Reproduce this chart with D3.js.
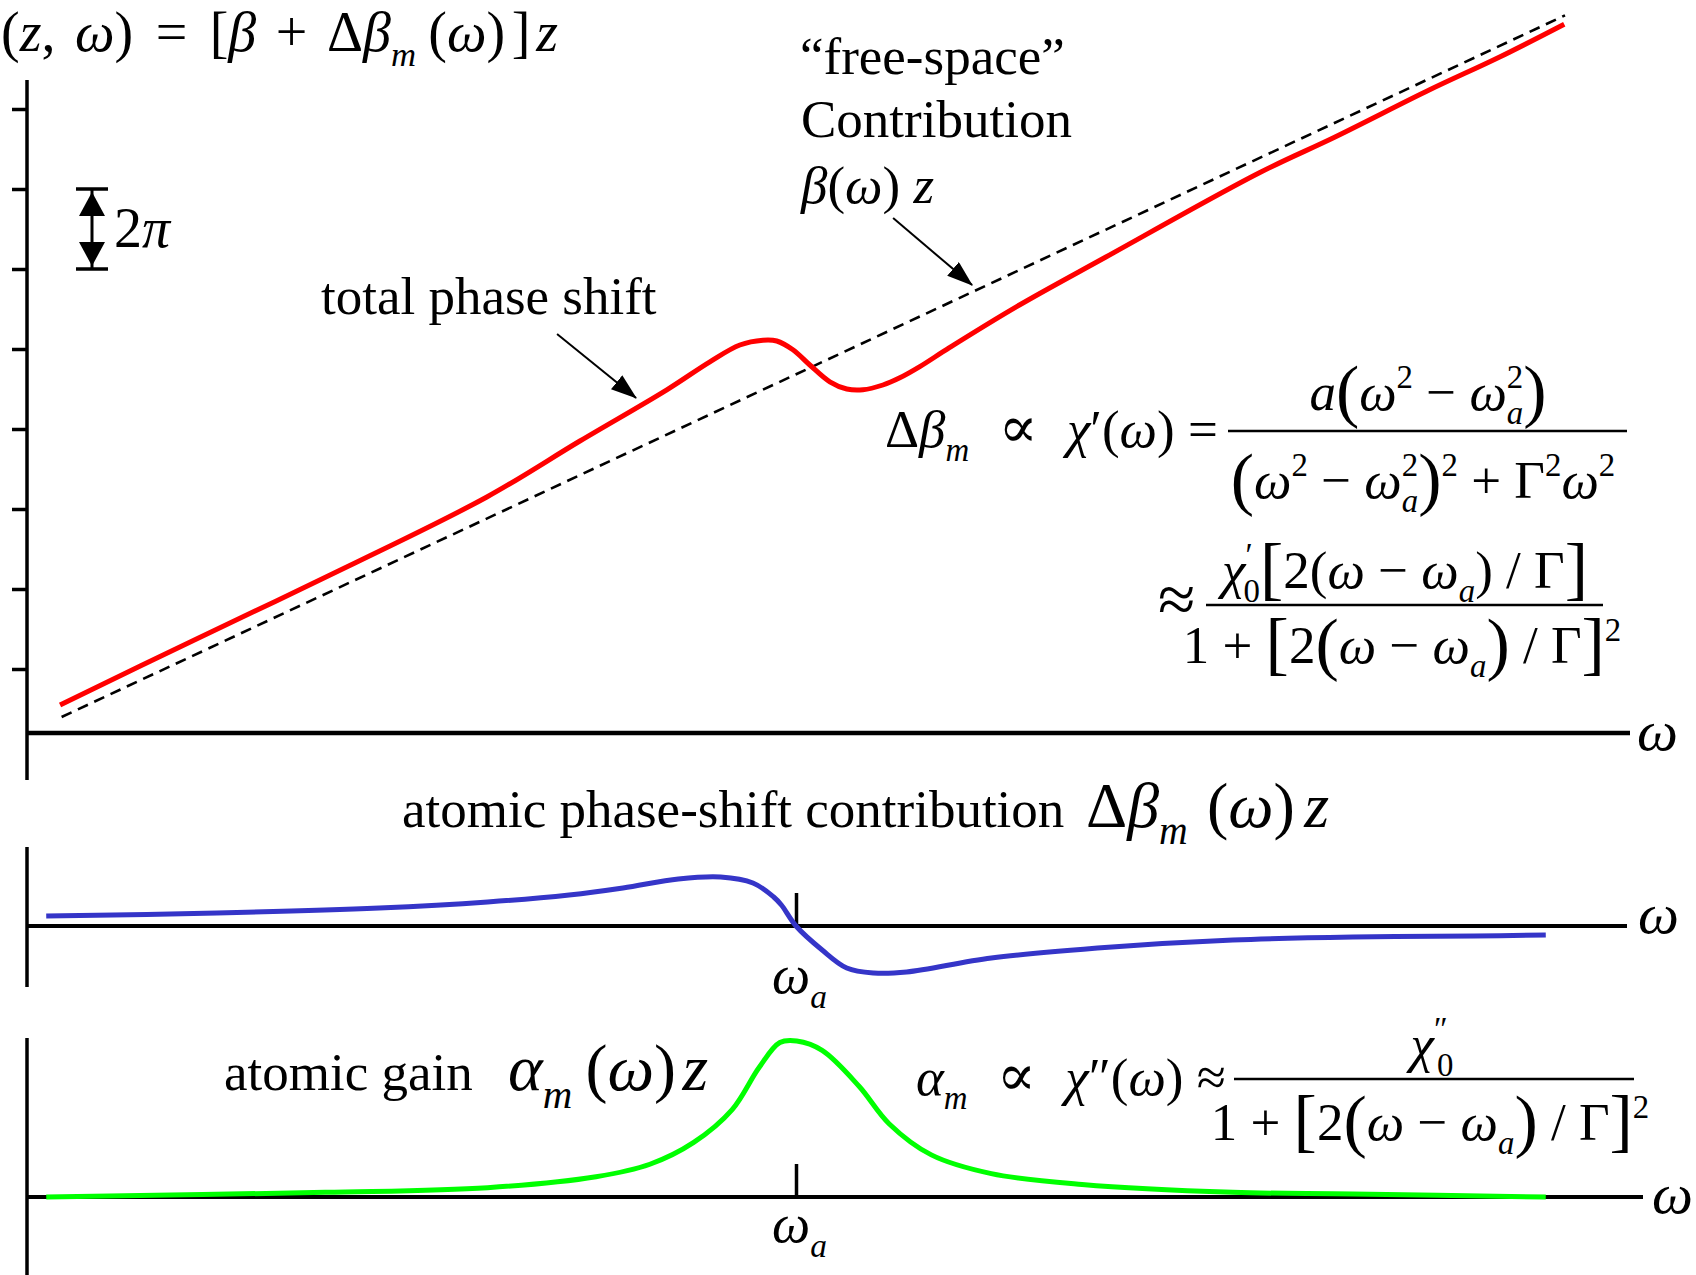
<!DOCTYPE html>
<html>
<head>
<meta charset="utf-8">
<script src="https://cdn.jsdelivr.net/npm/d3@7"></script>
<style>
  body { margin: 0; background: #fff; }
  svg { display: block; }
  text { font-family: "Liberation Serif", "Times New Roman", "DejaVu Serif", serif; fill: #000; white-space: pre; }
</style>
</head>
<body>
<svg id="chart" width="1696" height="1275"></svg>
<script>
// ---------------------------------------------------------------
// Data: frequency ω in units of the atomic resonance ω_a
// ---------------------------------------------------------------
const omegaA = 1;

// free-space phase β(ω)z (straight line), phase in units of 2π
const freeSpaceOmega = [0.045, 2.0];
const freeSpacePhase = [0.40, 9.17];

// total phase shift [β + Δβ_m(ω)]z, in units of 2π
const totalOmega = [0.043, 0.217, 0.417, 0.598, 0.719, 0.832, 0.888, 0.927, 0.957,
                    0.975, 0.996, 1.018, 1.044, 1.066, 1.087, 1.113, 1.135, 1.161, 1.200,
                    1.287, 1.403, 1.602, 1.701, 1.824, 1.915, 1.999];
const totalPhase = [0.55, 1.36, 2.28, 3.15, 3.85, 4.49, 4.84, 5.05, 5.11,
                    5.10, 4.99, 4.80, 4.59, 4.50, 4.49, 4.55, 4.64, 4.78, 5.02,
                    5.53, 6.15, 7.20, 7.65, 8.24, 8.65, 9.06];

// tick marks on the phase axis, one every 2π
const phaseTicks = [1, 2, 3, 4, 5, 6, 7, 8];

// atomic phase-shift contribution Δβ_m(ω)z (dispersive, arbitrary units)
const dispOmega = [0.025, 0.247, 0.458, 0.599, 0.705, 0.775, 0.847, 0.902, 0.944, 0.971,
                   0.981, 1.000, 1.034, 1.066, 1.101, 1.144, 1.254, 1.411, 1.568, 1.724,
                   1.882, 1.975];
const dispValue = [0.10, 0.13, 0.18, 0.24, 0.31, 0.38, 0.47, 0.49, 0.43, 0.29,
                   0.21, 0.00, -0.24, -0.42, -0.47, -0.46, -0.32, -0.21, -0.14, -0.11,
                   -0.10, -0.09];

// atomic gain α_m(ω)z (Lorentzian, normalised to its peak)
const gainOmega = [0.025, 0.388, 0.599, 0.740, 0.810, 0.867, 0.917, 0.952, 0.979, 1.001,
                   1.034, 1.082, 1.121, 1.176, 1.254, 1.372, 1.568, 1.724, 1.975];
const gainValue = [0.00, 0.03, 0.06, 0.13, 0.21, 0.35, 0.56, 0.83, 0.99, 1.00,
                   0.94, 0.71, 0.47, 0.27, 0.15, 0.08, 0.03, 0.02, 0.00];

// ---------------------------------------------------------------
// Scales
// ---------------------------------------------------------------
const svg = d3.select("#chart");
const AX = 27;                       // common vertical axis position
const x = d3.scaleLinear().domain([0, 1]).range([AX, 796]);
const yTop = d3.scaleLinear().domain([0.2, 8.2]).range([733, 93]);
const yMid = d3.scaleLinear().domain([0, 0.5]).range([926, 876]);
const yBot = d3.scaleLinear().domain([0, 1]).range([1197, 1041]);
const smooth = d3.curveCatmullRom.alpha(0.5);

const zip = (a, b) => a.map((v, i) => [v, b[i]]);

// arrowhead marker for the annotation pointers
const defs = svg.append("defs");
defs.append("marker")
  .attr("id", "head")
  .attr("markerUnits", "userSpaceOnUse")
  .attr("viewBox", "0 0 26 18")
  .attr("markerWidth", 26).attr("markerHeight", 18)
  .attr("refX", 25).attr("refY", 9)
  .attr("orient", "auto")
  .append("path").attr("d", "M0,0 L26,9 L0,18 Z").attr("fill", "#000");

// ---------------------------------------------------------------
// Math text helper (tspans with italics, sub- and superscripts)
// ---------------------------------------------------------------
function math(px, py, size, parts, anchor = "start") {
  const t = svg.append("text").attr("x", px).attr("y", py)
    .attr("font-size", size).attr("text-anchor", anchor);
  let base = 0;
  for (const o of parts) {
    const ts = t.append("tspan").text(o.t);
    const s = o.s || 1;
    if (s !== 1) ts.attr("font-size", size * s);
    if (o.i) ts.attr("font-style", "italic");
    const b = (o.b || 0) * size;
    if (b !== base) ts.attr("dy", b - base);
    base = b;
    if (o.dx) ts.attr("dx", o.dx * size);
  }
  return t;
}
const I = (t, e = {}) => ({ t, i: true, ...e });
const R = (t, e = {}) => ({ t, ...e });
const Sub = (t, e = {}) => ({ t, i: true, s: 0.62, b: 0.27, ...e });
const Sup = (t, e = {}) => ({ t, s: 0.62, b: -0.42, ...e });
const BIG = { s: 1.32, b: 0.08 };

// ---------------------------------------------------------------
// Top panel: phase vs ω
// ---------------------------------------------------------------
const gTop = svg.append("g");
gTop.append("line").attr("x1", AX).attr("x2", AX).attr("y1", 80).attr("y2", 780)
  .attr("stroke", "#000").attr("stroke-width", 3.5);
const yAxis = gTop.append("g").attr("transform", `translate(${AX},0)`)
  .call(d3.axisLeft(yTop).tickValues(phaseTicks).tickSize(15).tickFormat(""));
yAxis.select(".domain").remove();
yAxis.selectAll(".tick line").attr("stroke", "#000").attr("stroke-width", 3.5);
gTop.append("line").attr("x1", AX).attr("x2", 1630)
  .attr("y1", yTop(0.2)).attr("y2", yTop(0.2))
  .attr("stroke", "#000").attr("stroke-width", 4.5);

const lineTop = d3.line().x(d => x(d[0])).y(d => yTop(d[1]));
gTop.append("path").datum(zip(freeSpaceOmega, freeSpacePhase))
  .attr("d", lineTop).attr("fill", "none")
  .attr("stroke", "#000").attr("stroke-width", 2.6).attr("stroke-dasharray", "11,7");
gTop.append("path").datum(zip(totalOmega, totalPhase))
  .attr("d", lineTop.curve(smooth)).attr("fill", "none")
  .attr("stroke", "#ff0000").attr("stroke-width", 5);

// 2π scale marker spanning one tick interval
const m1 = yTop(7), m0 = yTop(6), mx = 92;
gTop.append("line").attr("x1", mx).attr("x2", mx).attr("y1", m1).attr("y2", m0)
  .attr("stroke", "#000").attr("stroke-width", 3);
[m1, m0].forEach(v => gTop.append("line").attr("x1", mx - 16).attr("x2", mx + 16)
  .attr("y1", v).attr("y2", v).attr("stroke", "#000").attr("stroke-width", 3.5));
gTop.append("path").attr("d", `M${mx},${m1 + 3} L${mx - 13},${m1 + 27} L${mx + 13},${m1 + 27} Z`);
gTop.append("path").attr("d", `M${mx},${m0 - 3} L${mx - 13},${m0 - 27} L${mx + 13},${m0 - 27} Z`);
math(114, 247, 56, [R("2"), I("π")]);

// pointer to the free-space line
const fsAt = w => d3.interpolateNumber(freeSpacePhase[0], freeSpacePhase[1])(
  (w - freeSpaceOmega[0]) / (freeSpaceOmega[1] - freeSpaceOmega[0]));
const t1x = x(1.229), t1y = yTop(fsAt(1.229)) - 7;
gTop.append("line").attr("x1", t1x - 79).attr("y1", t1y - 67).attr("x2", t1x).attr("y2", t1y)
  .attr("stroke", "#000").attr("stroke-width", 2).attr("marker-end", "url(#head)");
// pointer to the total phase curve
const totAt = d3.scaleLinear().domain(totalOmega).range(totalPhase);
const t2x = x(0.792), t2y = yTop(totAt(0.792)) - 10;
gTop.append("line").attr("x1", t2x - 79).attr("y1", t2y - 64).attr("x2", t2x).attr("y2", t2y)
  .attr("stroke", "#000").attr("stroke-width", 2).attr("marker-end", "url(#head)");

// labels of the top panel
math(1, 51, 56, [R("("), I("z"), R(","), I("ω", { dx: 0.35 }), R(")"), R("=", { dx: 0.4 }),
  R("[", { dx: 0.4 }), I("β"), R("+", { dx: 0.35 }), R("Δ", { dx: 0.35 }), I("β"),
  Sub("m"), R("(", { dx: 0.22 }), I("ω"), R(")"), R("]", { dx: 0.12 }), I("z", { dx: 0.1 })]);
math(800, 74, 53, [R("“free-space”")]);
math(801, 137, 53, [R("Contribution")]);
math(801, 203, 53, [I("β"), R("("), I("ω"), R(") "), I("z")]);
math(321, 314, 53, [R("total phase shift")]);
math(1637, 750, 58, [I("ω")]);

// Δβ_m ∝ χ'(ω) = a(ω² − ω_a²) / [(ω² − ω_a²)² + Γ²ω²]
math(885, 447, 53, [R("Δ"), I("β"), Sub("m"), R("  ∝  ", { s: 1.1 }), I("χ"), R("′("), I("ω"), R(") =")]);
svg.append("line").attr("x1", 1228).attr("x2", 1627).attr("y1", 431).attr("y2", 431)
  .attr("stroke", "#000").attr("stroke-width", 2.5);
math(1428, 410, 53, [I("a"), R("(", BIG), I("ω"), Sup("2"), R(" − "), I("ω"), Sup("2"),
  Sub("a", { dx: -0.31 }), R(")", BIG)], "middle");
math(1423, 498, 53, [R("(", BIG), I("ω"), Sup("2"), R(" − "), I("ω"), Sup("2"),
  Sub("a", { dx: -0.31 }), R(")", BIG), Sup("2"), R(" + Γ"), Sup("2"), I("ω"), Sup("2")], "middle");

// ≈ χ'_0[2(ω − ω_a)/Γ] / (1 + [2(ω − ω_a)/Γ]²)
math(1158, 622, 68, [R("≈")]);
svg.append("line").attr("x1", 1206).attr("x2", 1603).attr("y1", 605).attr("y2", 605)
  .attr("stroke", "#000").attr("stroke-width", 2.5);
math(1405, 588, 53, [I("χ"), Sup("′"), Sub("0", { i: false, dx: -0.17 }), R("[", BIG), R("2("),
  I("ω"), R(" − "), I("ω"), Sub("a"), R(") / Γ"), R("]", BIG)], "middle");
const lorentzDen = [R("1 + "), R("[", BIG), R("2"), R("(", BIG), I("ω"), R(" − "), I("ω"), Sub("a"),
  R(")", BIG), R(" / Γ"), R("]", BIG), Sup("2")];
math(1402, 663, 53, lorentzDen, "middle");

// ---------------------------------------------------------------
// Middle panel: atomic phase-shift contribution
// ---------------------------------------------------------------
const gMid = svg.append("g");
gMid.append("line").attr("x1", AX).attr("x2", AX).attr("y1", 847).attr("y2", 987)
  .attr("stroke", "#000").attr("stroke-width", 3.5);
gMid.append("line").attr("x1", AX).attr("x2", 1627).attr("y1", yMid(0)).attr("y2", yMid(0))
  .attr("stroke", "#000").attr("stroke-width", 4);
const midTick = gMid.append("g").attr("transform", `translate(0,${yMid(0)})`)
  .call(d3.axisTop(x).tickValues([omegaA]).tickSize(33).tickFormat(""));
midTick.select(".domain").remove();
midTick.selectAll(".tick line").attr("stroke", "#000").attr("stroke-width", 3.5);
gMid.append("path").datum(zip(dispOmega, dispValue))
  .attr("d", d3.line().x(d => x(d[0])).y(d => yMid(d[1])).curve(smooth))
  .attr("fill", "none").attr("stroke", "#3535c8").attr("stroke-width", 5);

math(402, 827, 53, [R("atomic phase-shift contribution")]);
math(1086, 827, 64, [R("Δ"), I("β"), Sub("m"), R("(", { dx: 0.3 }), I("ω"), R(")"), I("z", { dx: 0.15 })]);
math(x(omegaA) - 24, 993, 54, [I("ω"), Sub("a")]);
math(1638, 933, 58, [I("ω")]);

// ---------------------------------------------------------------
// Bottom panel: atomic gain
// ---------------------------------------------------------------
const gBot = svg.append("g");
gBot.append("line").attr("x1", AX).attr("x2", AX).attr("y1", 1038).attr("y2", 1275)
  .attr("stroke", "#000").attr("stroke-width", 3.5);
gBot.append("line").attr("x1", AX).attr("x2", 1643).attr("y1", yBot(0)).attr("y2", yBot(0))
  .attr("stroke", "#000").attr("stroke-width", 4);
const botTick = gBot.append("g").attr("transform", `translate(0,${yBot(0)})`)
  .call(d3.axisTop(x).tickValues([omegaA]).tickSize(33).tickFormat(""));
botTick.select(".domain").remove();
botTick.selectAll(".tick line").attr("stroke", "#000").attr("stroke-width", 3.5);
gBot.append("path").datum(zip(gainOmega, gainValue))
  .attr("d", d3.line().x(d => x(d[0])).y(d => yBot(d[1])).curve(smooth))
  .attr("fill", "none").attr("stroke", "#00ff00").attr("stroke-width", 5);

math(224, 1090, 53, [R("atomic gain")]);
math(508, 1090, 66, [I("α"), Sub("m"), R("(", { dx: 0.2 }), I("ω"), R(")"), I("z", { dx: 0.1 })]);
math(x(omegaA) - 24, 1242, 54, [I("ω"), Sub("a")]);
math(1652, 1213, 58, [I("ω")]);

// α_m ∝ χ''(ω) ≈ χ''_0 / (1 + [2(ω − ω_a)/Γ]²)
math(916, 1095, 53, [I("α"), Sub("m"), R("  ∝  ", { s: 1.1 }), I("χ"), R("″("), I("ω"), R(") ≈")]);
svg.append("line").attr("x1", 1234).attr("x2", 1634).attr("y1", 1079).attr("y2", 1079)
  .attr("stroke", "#000").attr("stroke-width", 2.5);
math(1432, 1062, 53, [I("χ"), Sup("″"), Sub("0", { i: false, dx: -0.2 })], "middle");
math(1430, 1140, 53, lorentzDen, "middle");
</script>
</body>
</html>
